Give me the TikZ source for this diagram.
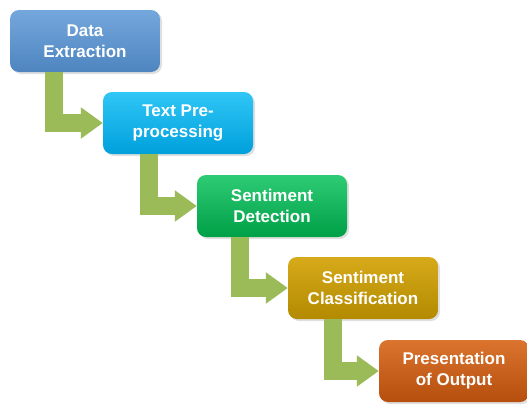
\documentclass[tikz,border=0pt]{standalone}
\usepackage{fontspec}
\setmainfont{Liberation Sans}
\usetikzlibrary{arrows.meta,shadows}

\definecolor{extractTop}{HTML}{74A7DC}
\definecolor{extractMid}{HTML}{5A93CF}
\definecolor{extractBot}{HTML}{4E85C0}
\definecolor{prepTop}{HTML}{30C6F6}
\definecolor{prepMid}{HTML}{00B0F0}
\definecolor{prepBot}{HTML}{00A0DC}
\definecolor{detectTop}{HTML}{2ECB75}
\definecolor{detectMid}{HTML}{00B050}
\definecolor{detectBot}{HTML}{00A047}
\definecolor{classTop}{HTML}{D6AA1A}
\definecolor{classMid}{HTML}{C59A00}
\definecolor{classBot}{HTML}{B38A00}
\definecolor{outTop}{HTML}{DA742E}
\definecolor{outMid}{HTML}{C85B14}
\definecolor{outBot}{HTML}{B64E0D}
\definecolor{flowgreen}{HTML}{9BBB59}

\tikzset{
  stage/.style={rounded corners=9pt, minimum width=150pt, minimum height=62pt,
    align=center, text=white, font=\bfseries\fontsize{17}{21}\selectfont,
    drop shadow={opacity=0.25, shadow xshift=2pt, shadow yshift=-2pt}},
  flow/.style={line width=18pt, draw=flowgreen, line join=miter,
    -{Triangle[width=30pt,length=22pt]}}
}

\begin{document}
\begin{tikzpicture}[x=1pt,y=-1pt]
  \useasboundingbox (0,0) rectangle (527,405);

  \node [stage, top color=extractTop, middle color=extractMid, bottom color=extractBot] (extract) at (85,41) { Data\\Extraction };
  \node [stage, top color=prepTop, middle color=prepMid, bottom color=prepBot] (prep) at (178,123) { Text Pre-\\processing };
  \node [stage, top color=detectTop, middle color=detectMid, bottom color=detectBot] (detect) at (272,206) { Sentiment\\Detection };
  \node [stage, top color=classTop, middle color=classMid, bottom color=classBot] (classify) at (363,288) { Sentiment\\Classification };
  \node [stage, top color=outTop, middle color=outMid, bottom color=outBot] (output) at (454,371) { Presentation\\of Output };

  \draw [flow] ([xshift=-31pt]extract.south) |- (prep.west);
  \draw [flow] ([xshift=-29pt]prep.south) |- (detect.west);
  \draw [flow] ([xshift=-32pt]detect.south) |- (classify.west);
  \draw [flow] ([xshift=-30pt]classify.south) |- (output.west);
\end{tikzpicture}
\end{document}
